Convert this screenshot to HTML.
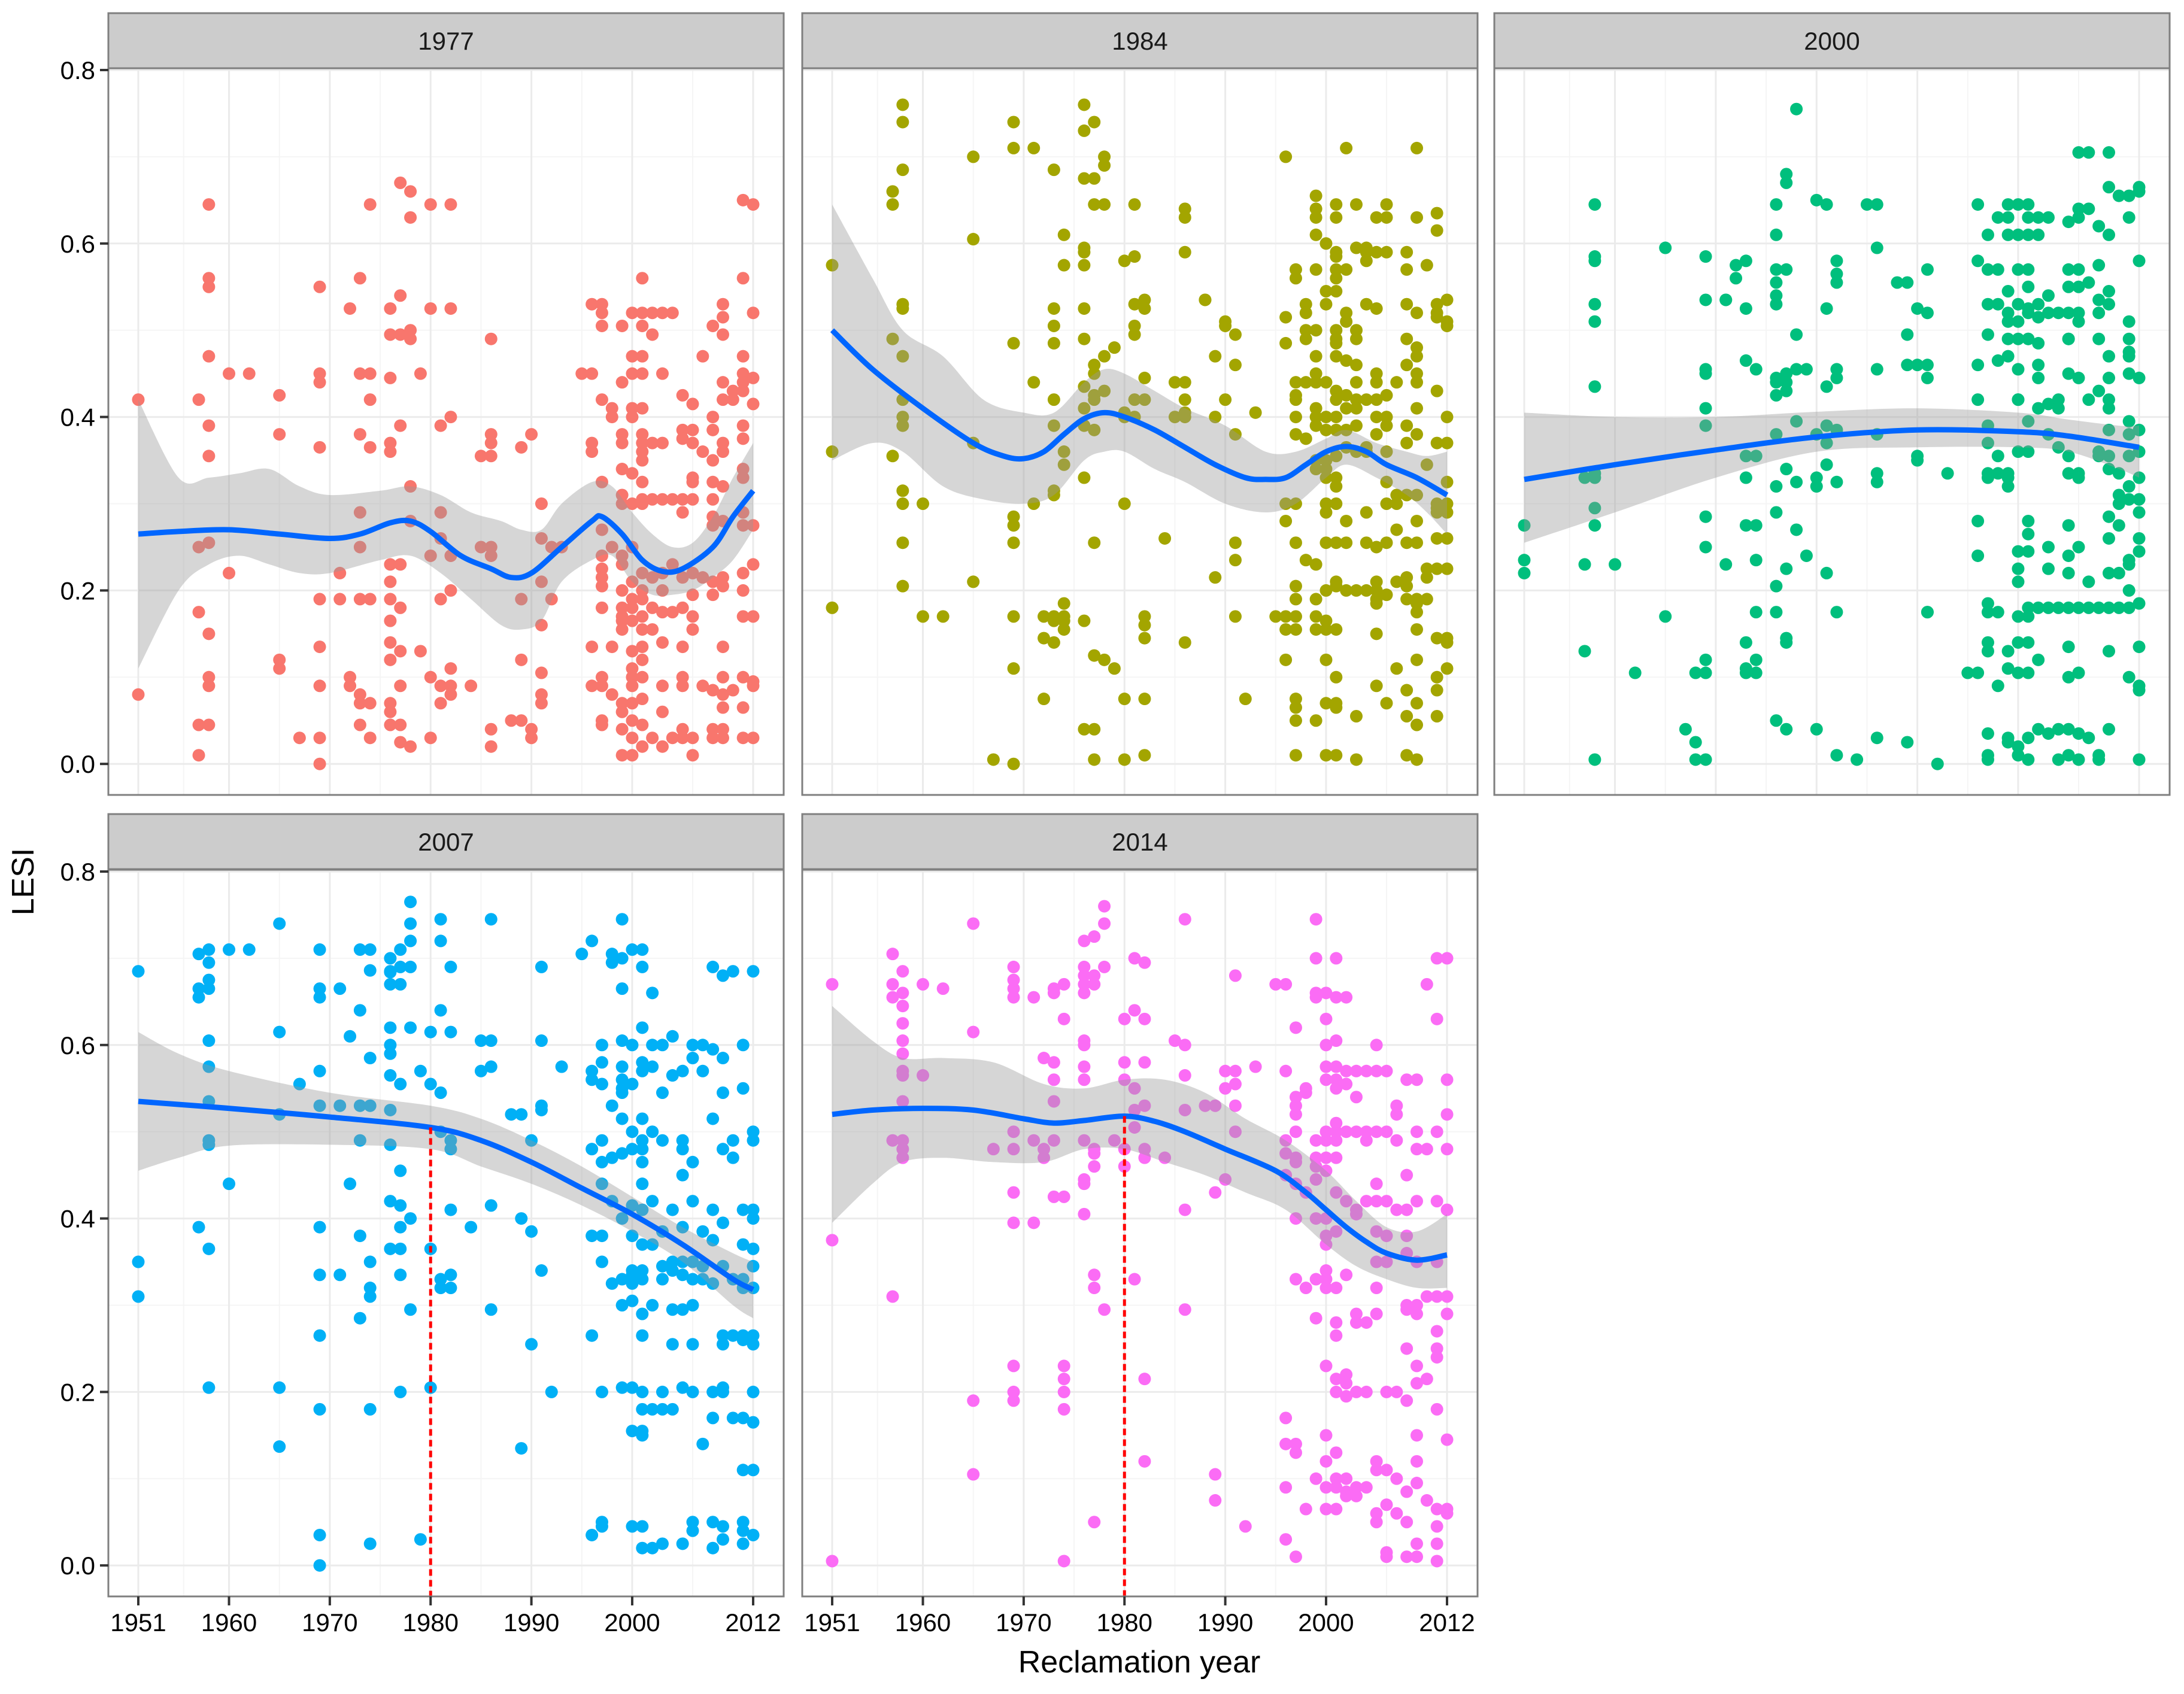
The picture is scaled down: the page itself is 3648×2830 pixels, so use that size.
<!DOCTYPE html>
<html><head><meta charset="utf-8"><style>
html,body{margin:0;padding:0;background:#fff}
svg{display:block}
text{font-family:"Liberation Sans",Arial,sans-serif}
</style></head><body>
<svg id="chart" xmlns="http://www.w3.org/2000/svg" width="3648" height="2830" viewBox="0 0 3648 2830">
<rect x="0" y="0" width="3648" height="2830" fill="#fff"/>
<text x="0" y="0" transform="translate(56,1473) rotate(-90)" text-anchor="middle" font-size="52">LESI</text>
<text x="1903" y="2794" text-anchor="middle" font-size="52">Reclamation year</text>
</svg>
<script>
const yTicks = [0.0, 0.2, 0.4, 0.6, 0.8];
const yTickLabels = ["0.0", "0.2", "0.4", "0.6", "0.8"];
const yMinor = [0.1, 0.3, 0.5, 0.7];
const xTicks = [1951, 1960, 1970, 1980, 1990, 2000, 2012];
const xTickLabels = ["1951", "1960", "1970", "1980", "1990", "2000", "2012"];
const xMinor = [1955.5, 1965, 1975, 1985, 1995, 2006];
const panelTitles = ["1977", "1984", "2000", "2007", "2014"];
const panelColors = ["#F8766D", "#A3A500", "#00BF7D", "#00B0F6", "#FB6CF5"];
const refLineYear = [null, null, null, 1980, 1980];

const pts1977 = [[1951,[0.42,0.08]],[1957,[0.42,0.25,0.175,0.045,0.01]],[1958,[0.645,0.56,0.55,0.47,0.39,0.355,0.255,0.15,0.10,0.09,0.045]],[1960,[0.45,0.22]],[1962,[0.45]],[1965,[0.425,0.38,0.12,0.11]],[1967,[0.03]],[1969,[0.55,0.45,0.44,0.365,0.19,0.135,0.09,0.03,0.0]],[1971,[0.22,0.19]],[1972,[0.525,0.1,0.09]],[1973,[0.56,0.45,0.38,0.29,0.25,0.19,0.08,0.07,0.045]],[1974,[0.645,0.45,0.42,0.365,0.19,0.07,0.03]],[1976,[0.525,0.495,0.445,0.37,0.36,0.23,0.21,0.19,0.165,0.14,0.12,0.07,0.06,0.045]],[1977,[0.67,0.54,0.495,0.39,0.23,0.18,0.13,0.09,0.045,0.025]],[1978,[0.66,0.63,0.50,0.49,0.32,0.28,0.02]],[1979,[0.45,0.13]],[1980,[0.645,0.525,0.24,0.1,0.03]],[1981,[0.39,0.29,0.26,0.19,0.09,0.07]],[1982,[0.645,0.525,0.40,0.24,0.2,0.11,0.09,0.08]],[1984,[0.09]],[1985,[0.355,0.25]],[1986,[0.49,0.38,0.37,0.355,0.25,0.24,0.04,0.02]],[1988,[0.05]],[1989,[0.365,0.19,0.12,0.05]],[1990,[0.38,0.04,0.03]],[1991,[0.30,0.26,0.21,0.16,0.08,0.07,0.105]],[1992,[0.19,0.25]],[1993,[0.25]],[1995,[0.45]],[1996,[0.53,0.45,0.37,0.36,0.135,0.09]],[1997,[0.53,0.52,0.505,0.42,0.325,0.27,0.24,0.225,0.215,0.205,0.18,0.10,0.09,0.05,0.045]],[1998,[0.41,0.40,0.25,0.135,0.08]],[1999,[0.505,0.44,0.38,0.37,0.34,0.31,0.30,0.24,0.23,0.20,0.18,0.17,0.165,0.155,0.07,0.06,0.04,0.01]],[2000,[0.52,0.47,0.45,0.41,0.40,0.335,0.30,0.25,0.21,0.19,0.18,0.165,0.13,0.11,0.1,0.09,0.07,0.05,0.03,0.01]],[2001,[0.56,0.52,0.505,0.47,0.45,0.41,0.38,0.37,0.36,0.35,0.325,0.305,0.30,0.22,0.2,0.19,0.17,0.155,0.135,0.12,0.1,0.075,0.045,0.02]],[2002,[0.52,0.495,0.37,0.305,0.215,0.18,0.155,0.03]],[2003,[0.52,0.45,0.37,0.305,0.22,0.2,0.175,0.14,0.09,0.06,0.02]],[2004,[0.52,0.305,0.23,0.175,0.03]],[2005,[0.425,0.385,0.375,0.305,0.29,0.215,0.18,0.135,0.1,0.09,0.04,0.03]],[2006,[0.415,0.385,0.37,0.33,0.325,0.305,0.22,0.195,0.17,0.155,0.03,0.01]],[2007,[0.47,0.36,0.215,0.09]],[2008,[0.505,0.40,0.385,0.35,0.325,0.305,0.285,0.275,0.21,0.195,0.085,0.04,0.03]],[2009,[0.53,0.515,0.495,0.44,0.42,0.37,0.36,0.32,0.28,0.215,0.205,0.135,0.10,0.08,0.065,0.04,0.03]],[2010,[0.43,0.42,0.085]],[2011,[0.65,0.56,0.47,0.45,0.44,0.43,0.39,0.375,0.34,0.33,0.29,0.275,0.22,0.2,0.17,0.1,0.065,0.03]],[2012,[0.645,0.52,0.445,0.415,0.275,0.23,0.17,0.095,0.09,0.03]]];

const pts1984 = [[1951,[0.575,0.36,0.18]],[1957,[0.66,0.645,0.49,0.355]],[1958,[0.76,0.74,0.685,0.53,0.525,0.47,0.42,0.40,0.39,0.315,0.30,0.255,0.205]],[1960,[0.30,0.17]],[1962,[0.17]],[1965,[0.70,0.605,0.37,0.21]],[1967,[0.005]],[1969,[0.74,0.71,0.485,0.285,0.275,0.255,0.17,0.11,0.0]],[1971,[0.71,0.44,0.30]],[1972,[0.17,0.145,0.075]],[1973,[0.685,0.525,0.505,0.485,0.42,0.39,0.315,0.31,0.17,0.165,0.14]],[1974,[0.61,0.575,0.36,0.345,0.185,0.165,0.17,0.155]],[1976,[0.76,0.73,0.675,0.595,0.59,0.575,0.525,0.49,0.435,0.41,0.39,0.33,0.165,0.04]],[1977,[0.74,0.675,0.645,0.46,0.45,0.425,0.42,0.385,0.255,0.125,0.04,0.005]],[1978,[0.70,0.69,0.645,0.47,0.43,0.12]],[1979,[0.48,0.11]],[1980,[0.58,0.405,0.40,0.30,0.075,0.005]],[1981,[0.645,0.585,0.53,0.505,0.495,0.42,0.40]],[1982,[0.535,0.525,0.445,0.42,0.17,0.16,0.145,0.075,0.01]],[1984,[0.26]],[1985,[0.44,0.40]],[1986,[0.64,0.63,0.59,0.44,0.42,0.405,0.40,0.14]],[1988,[0.535,0.535]],[1989,[0.47,0.40,0.215]],[1990,[0.51,0.505,0.42]],[1991,[0.495,0.46,0.38,0.255,0.235,0.17]],[1992,[0.075]],[1993,[0.405]],[1995,[0.17]],[1996,[0.70,0.515,0.485,0.30,0.28,0.17,0.155,0.12]],[1997,[0.57,0.56,0.44,0.425,0.42,0.40,0.38,0.30,0.255,0.205,0.19,0.17,0.155,0.075,0.065,0.05,0.01]],[1998,[0.53,0.52,0.50,0.49,0.44,0.375,0.235]],[1999,[0.655,0.64,0.63,0.61,0.57,0.50,0.47,0.45,0.44,0.41,0.40,0.39,0.35,0.34,0.23,0.19,0.17,0.155,0.05]],[2000,[0.60,0.545,0.53,0.44,0.40,0.385,0.35,0.34,0.33,0.30,0.29,0.255,0.2,0.155,0.165,0.12,0.07,0.01]],[2001,[0.645,0.63,0.59,0.585,0.57,0.56,0.545,0.50,0.49,0.485,0.47,0.43,0.42,0.40,0.385,0.355,0.33,0.32,0.30,0.255,0.21,0.205,0.155,0.1,0.07,0.065,0.01]],[2002,[0.71,0.57,0.52,0.51,0.465,0.425,0.41,0.385,0.365,0.28,0.255,0.2]],[2003,[0.645,0.595,0.5,0.49,0.46,0.44,0.42,0.41,0.39,0.36,0.2,0.055,0.005]],[2004,[0.595,0.59,0.58,0.53,0.42,0.365,0.36,0.29,0.255,0.2]],[2005,[0.63,0.59,0.525,0.45,0.44,0.42,0.4,0.38,0.25,0.21,0.2,0.19,0.185,0.15,0.09]],[2006,[0.645,0.63,0.59,0.425,0.40,0.39,0.36,0.325,0.30,0.255,0.195,0.07]],[2007,[0.44,0.31,0.27,0.3,0.21,0.11]],[2008,[0.59,0.57,0.53,0.49,0.46,0.39,0.37,0.31,0.255,0.215,0.205,0.19,0.085,0.055,0.01]],[2009,[0.71,0.63,0.52,0.45,0.48,0.44,0.47,0.41,0.38,0.31,0.28,0.255,0.19,0.185,0.175,0.155,0.12,0.07,0.045,0.005]],[2010,[0.575,0.345,0.225,0.215,0.19]],[2011,[0.635,0.615,0.53,0.52,0.515,0.43,0.37,0.3,0.295,0.29,0.26,0.225,0.145,0.1,0.085,0.055]],[2012,[0.535,0.51,0.505,0.40,0.37,0.325,0.3,0.29,0.26,0.225,0.145,0.11,0.14]]];

const pts2000 = [[1951,[0.275,0.235,0.22]],[1957,[0.33,0.23,0.13]],[1958,[0.645,0.585,0.58,0.53,0.51,0.435,0.335,0.33,0.295,0.275,0.005]],[1960,[0.23]],[1962,[0.105]],[1965,[0.595,0.17]],[1967,[0.04]],[1968,[0.005,0.025,0.105]],[1969,[0.585,0.535,0.455,0.45,0.41,0.39,0.285,0.25,0.105,0.12,0.005]],[1971,[0.535,0.535,0.23]],[1972,[0.575,0.56]],[1973,[0.58,0.525,0.465,0.355,0.33,0.275,0.14,0.11,0.105]],[1974,[0.455,0.355,0.275,0.235,0.175,0.12,0.105]],[1976,[0.645,0.61,0.57,0.555,0.54,0.53,0.44,0.445,0.425,0.38,0.32,0.29,0.205,0.175,0.05]],[1977,[0.68,0.67,0.57,0.44,0.43,0.45,0.34,0.225,0.145,0.14,0.04]],[1978,[0.755,0.495,0.455,0.395,0.325,0.27]],[1979,[0.455,0.24]],[1980,[0.65,0.38,0.33,0.32,0.04]],[1981,[0.645,0.525,0.435,0.39,0.37,0.345,0.22]],[1982,[0.58,0.565,0.555,0.455,0.445,0.385,0.325,0.175,0.01]],[1984,[0.005]],[1985,[0.645]],[1986,[0.645,0.595,0.455,0.38,0.335,0.325,0.03]],[1988,[0.555]],[1989,[0.555,0.495,0.46,0.025]],[1990,[0.525,0.46,0.355,0.35]],[1991,[0.57,0.52,0.46,0.445,0.175,0.175]],[1992,[0.0]],[1993,[0.335]],[1995,[0.105]],[1996,[0.645,0.58,0.46,0.42,0.28,0.24,0.105]],[1997,[0.61,0.57,0.53,0.495,0.39,0.37,0.335,0.33,0.185,0.175,0.14,0.13,0.035,0.005,0.01]],[1998,[0.63,0.57,0.53,0.465,0.355,0.335,0.175,0.09]],[1999,[0.645,0.63,0.61,0.545,0.52,0.51,0.49,0.47,0.33,0.335,0.32,0.13,0.11,0.025,0.03]],[2000,[0.645,0.61,0.57,0.53,0.51,0.49,0.455,0.42,0.42,0.36,0.245,0.225,0.21,0.17,0.14,0.105,0.02,0.01]],[2001,[0.645,0.63,0.61,0.57,0.55,0.525,0.52,0.49,0.49,0.395,0.36,0.28,0.265,0.245,0.18,0.17,0.14,0.105,0.03,0.005]],[2002,[0.63,0.61,0.53,0.515,0.485,0.445,0.46,0.41,0.18,0.12,0.04]],[2003,[0.63,0.54,0.52,0.415,0.38,0.25,0.225,0.18,0.035]],[2004,[0.52,0.42,0.41,0.365,0.18,0.04,0.005]],[2005,[0.625,0.57,0.55,0.49,0.52,0.45,0.49,0.355,0.335,0.275,0.24,0.22,0.18,0.135,0.1,0.04,0.01]],[2006,[0.705,0.64,0.63,0.57,0.55,0.52,0.51,0.445,0.335,0.33,0.25,0.18,0.105,0.035,0.005]],[2007,[0.705,0.64,0.555,0.42,0.21,0.18,0.03]],[2008,[0.62,0.575,0.535,0.52,0.49,0.43,0.36,0.355,0.18,0.005,0.01]],[2009,[0.705,0.665,0.61,0.545,0.53,0.47,0.445,0.42,0.41,0.385,0.355,0.34,0.285,0.26,0.22,0.18,0.13,0.04]],[2010,[0.655,0.335,0.31,0.30,0.275,0.22,0.18]],[2011,[0.655,0.63,0.51,0.49,0.47,0.475,0.45,0.395,0.38,0.355,0.32,0.305,0.235,0.23,0.2,0.18,0.1]],[2012,[0.665,0.66,0.58,0.445,0.385,0.36,0.33,0.305,0.29,0.26,0.245,0.185,0.135,0.09,0.085,0.005]]];

const pts2007 = [[1951,[0.685,0.35,0.31]],[1957,[0.705,0.665,0.655,0.39]],[1958,[0.71,0.695,0.675,0.665,0.605,0.575,0.535,0.49,0.485,0.365,0.205]],[1960,[0.71,0.44]],[1962,[0.71]],[1965,[0.74,0.615,0.52,0.205,0.137]],[1967,[0.555]],[1969,[0.71,0.665,0.655,0.57,0.53,0.39,0.335,0.265,0.18,0.035,0.0]],[1971,[0.665,0.53,0.335]],[1972,[0.61,0.44]],[1973,[0.71,0.64,0.53,0.49,0.38,0.285]],[1974,[0.71,0.686,0.585,0.53,0.35,0.32,0.31,0.18,0.025]],[1976,[0.70,0.685,0.684,0.67,0.62,0.6,0.59,0.565,0.525,0.485,0.42,0.365]],[1977,[0.71,0.69,0.67,0.555,0.455,0.415,0.39,0.365,0.335,0.2]],[1978,[0.765,0.74,0.72,0.69,0.62,0.4,0.295]],[1979,[0.57,0.03]],[1980,[0.615,0.555,0.365,0.205]],[1981,[0.745,0.72,0.64,0.545,0.5,0.33,0.32]],[1982,[0.69,0.615,0.49,0.48,0.41,0.335,0.32]],[1984,[0.39]],[1985,[0.605,0.57]],[1986,[0.745,0.605,0.575,0.415,0.295]],[1988,[0.52]],[1989,[0.52,0.40,0.135]],[1990,[0.49,0.385,0.255]],[1991,[0.69,0.605,0.53,0.525,0.34]],[1992,[0.2]],[1993,[0.575]],[1995,[0.705]],[1996,[0.72,0.57,0.56,0.48,0.38,0.265,0.035]],[1997,[0.60,0.58,0.555,0.49,0.465,0.44,0.38,0.35,0.2,0.045,0.05]],[1998,[0.705,0.695,0.53,0.47,0.42,0.325]],[1999,[0.745,0.70,0.665,0.605,0.575,0.56,0.55,0.545,0.515,0.475,0.40,0.33,0.3,0.205]],[2000,[0.71,0.60,0.555,0.50,0.48,0.415,0.38,0.34,0.335,0.325,0.305,0.205,0.155,0.045]],[2001,[0.71,0.69,0.62,0.58,0.57,0.515,0.49,0.48,0.465,0.44,0.41,0.37,0.34,0.33,0.29,0.265,0.2,0.155,0.18,0.15,0.02,0.045]],[2002,[0.66,0.6,0.575,0.5,0.42,0.37,0.3,0.18,0.02]],[2003,[0.6,0.545,0.49,0.385,0.345,0.33,0.18,0.025,0.2]],[2004,[0.61,0.565,0.41,0.35,0.34,0.295,0.255,0.18]],[2005,[0.57,0.49,0.48,0.45,0.39,0.35,0.335,0.295,0.205,0.025]],[2006,[0.6,0.585,0.465,0.42,0.35,0.33,0.30,0.255,0.2,0.05,0.04]],[2007,[0.60,0.57,0.345,0.385,0.33,0.14]],[2008,[0.69,0.595,0.515,0.41,0.375,0.325,0.2,0.17,0.05,0.02]],[2009,[0.68,0.585,0.545,0.48,0.395,0.345,0.205,0.255,0.265,0.2,0.03,0.045]],[2010,[0.685,0.49,0.47,0.33,0.17,0.265]],[2011,[0.6,0.55,0.41,0.37,0.33,0.32,0.265,0.26,0.17,0.11,0.05,0.025,0.04]],[2012,[0.685,0.5,0.49,0.41,0.4,0.365,0.345,0.32,0.265,0.255,0.2,0.165,0.11,0.035]]];

const pts2014 = [[1951,[0.67,0.375,0.005]],[1957,[0.705,0.67,0.655,0.49,0.31]],[1958,[0.685,0.66,0.645,0.625,0.605,0.59,0.57,0.565,0.535,0.49,0.48,0.47]],[1960,[0.565,0.67]],[1962,[0.665]],[1965,[0.74,0.615,0.19,0.105]],[1967,[0.48]],[1969,[0.69,0.675,0.665,0.655,0.5,0.48,0.43,0.395,0.23,0.2,0.19]],[1971,[0.655,0.49,0.395]],[1972,[0.585,0.48,0.47]],[1973,[0.665,0.66,0.58,0.56,0.535,0.49,0.425]],[1974,[0.67,0.63,0.425,0.23,0.215,0.2,0.18,0.005]],[1976,[0.72,0.69,0.68,0.67,0.66,0.605,0.6,0.575,0.56,0.49,0.445,0.44,0.405]],[1977,[0.725,0.68,0.67,0.48,0.475,0.46,0.335,0.32,0.05]],[1978,[0.76,0.74,0.69,0.295]],[1979,[0.49]],[1980,[0.63,0.58,0.56,0.48,0.46]],[1981,[0.7,0.64,0.55,0.525,0.505,0.33]],[1982,[0.695,0.63,0.58,0.53,0.48,0.47,0.215,0.12]],[1984,[0.47]],[1985,[0.605]],[1986,[0.745,0.6,0.565,0.525,0.41,0.295]],[1988,[0.53]],[1989,[0.53,0.43,0.105,0.075]],[1990,[0.57,0.55,0.445]],[1991,[0.68,0.57,0.555,0.53,0.5]],[1992,[0.045]],[1993,[0.575]],[1995,[0.67]],[1996,[0.67,0.57,0.49,0.475,0.45,0.17,0.14,0.09,0.03]],[1997,[0.62,0.54,0.53,0.52,0.5,0.47,0.465,0.44,0.4,0.33,0.14,0.13,0.01]],[1998,[0.545,0.55,0.43,0.32,0.065]],[1999,[0.745,0.7,0.66,0.655,0.49,0.47,0.46,0.445,0.4,0.33,0.285,0.1]],[2000,[0.66,0.63,0.6,0.575,0.56,0.5,0.49,0.47,0.455,0.4,0.38,0.37,0.34,0.33,0.32,0.23,0.15,0.12,0.09,0.065]],[2001,[0.7,0.655,0.605,0.575,0.56,0.55,0.51,0.5,0.49,0.47,0.43,0.385,0.32,0.28,0.265,0.215,0.2,0.13,0.1,0.09,0.065]],[2002,[0.655,0.57,0.555,0.5,0.42,0.335,0.22,0.21,0.195,0.1,0.085,0.08]],[2003,[0.57,0.54,0.5,0.41,0.405,0.28,0.29,0.2,0.09,0.08]],[2004,[0.57,0.5,0.49,0.42,0.28,0.2,0.09]],[2005,[0.6,0.57,0.5,0.44,0.42,0.385,0.35,0.32,0.29,0.12,0.11,0.06,0.05]],[2006,[0.57,0.5,0.42,0.38,0.35,0.2,0.11,0.07,0.015,0.01]],[2007,[0.53,0.52,0.49,0.41,0.2,0.1,0.06]],[2008,[0.56,0.45,0.41,0.38,0.36,0.3,0.295,0.25,0.19,0.085,0.05,0.01]],[2009,[0.56,0.5,0.48,0.42,0.35,0.3,0.29,0.23,0.21,0.15,0.12,0.095,0.025,0.01]],[2010,[0.67,0.48,0.31,0.215,0.075]],[2011,[0.7,0.63,0.5,0.42,0.35,0.31,0.27,0.25,0.24,0.18,0.025,0.045,0.065,0.005]],[2012,[0.7,0.56,0.52,0.48,0.41,0.31,0.29,0.145,0.06,0.065]]];

const fitYears1977 = [1951,1955,1960,1965,1970,1973,1976,1978,1980,1983,1986,1988,1990,1993,1996,1997,1999,2001,2003,2005,2008,2010,2012];
const fitVals1977 = [0.265,0.268,0.27,0.265,0.26,0.265,0.278,0.28,0.268,0.24,0.225,0.215,0.22,0.25,0.28,0.285,0.265,0.235,0.222,0.225,0.25,0.285,0.315];
const bandYears1977 = [1951,1955,1958,1961,1964,1967,1970,1975,1978,1981,1984,1987,1989,1991,1993,1996,1998,2000,2002,2004,2006,2008,2010,2012];
const bandLo1977 = [0.11,0.2,0.23,0.24,0.23,0.22,0.22,0.235,0.24,0.22,0.19,0.16,0.155,0.165,0.21,0.235,0.24,0.21,0.195,0.195,0.2,0.215,0.235,0.27];
const bandHi1977 = [0.42,0.33,0.33,0.335,0.34,0.32,0.31,0.315,0.32,0.31,0.29,0.28,0.27,0.27,0.3,0.325,0.32,0.29,0.265,0.25,0.255,0.285,0.33,0.37];

const fitYears1984 = [1951,1955,1960,1965,1968,1970,1972,1974,1976,1978,1980,1983,1986,1989,1992,1994,1996,1998,2000,2002,2004,2006,2009,2012];
const fitVals1984 = [0.50,0.455,0.41,0.37,0.355,0.352,0.36,0.38,0.398,0.405,0.40,0.385,0.365,0.345,0.33,0.328,0.33,0.345,0.36,0.366,0.36,0.345,0.33,0.31];
const bandYears1984 = [1951,1955,1958,1962,1966,1970,1973,1976,1978,1980,1983,1986,1990,1994,1997,2000,2002,2005,2008,2010,2012];
const bandLo1984 = [0.35,0.37,0.36,0.32,0.305,0.30,0.31,0.35,0.36,0.36,0.34,0.325,0.30,0.29,0.30,0.33,0.345,0.33,0.31,0.29,0.265];
const bandHi1984 = [0.645,0.56,0.5,0.47,0.42,0.405,0.405,0.44,0.455,0.45,0.43,0.41,0.39,0.36,0.36,0.375,0.385,0.37,0.36,0.355,0.36];

const fitYears2000 = [1951,1960,1970,1980,1990,2000,2005,2012];
const fitVals2000 = [0.328,0.345,0.362,0.377,0.385,0.383,0.378,0.365];
const bandYears2000 = [1951,1960,1970,1980,1990,2000,2005,2010,2012];
const bandLo2000 = [0.255,0.29,0.33,0.36,0.365,0.365,0.36,0.34,0.33];
const bandHi2000 = [0.405,0.40,0.40,0.406,0.41,0.405,0.397,0.39,0.39];

const fitYears2007 = [1951,1960,1970,1980,1985,1990,1995,2000,2005,2010,2012];
const fitVals2007 = [0.535,0.527,0.517,0.505,0.49,0.465,0.435,0.405,0.37,0.33,0.318];
const bandYears2007 = [1951,1955,1960,1970,1980,1985,1990,1995,2000,2005,2010,2012];
const bandLo2007 = [0.455,0.47,0.484,0.485,0.48,0.46,0.44,0.415,0.385,0.35,0.30,0.285];
const bandHi2007 = [0.615,0.59,0.57,0.545,0.53,0.515,0.49,0.46,0.425,0.39,0.36,0.35];

const fitYears2014 = [1951,1955,1960,1965,1970,1973,1976,1980,1983,1986,1990,1995,1998,2000,2002,2004,2006,2009,2012];
const fitVals2014 = [0.52,0.525,0.527,0.525,0.515,0.51,0.513,0.518,0.512,0.5,0.48,0.455,0.43,0.41,0.39,0.373,0.36,0.352,0.358];
const bandYears2014 = [1951,1955,1958,1962,1967,1972,1976,1980,1984,1988,1992,1996,2000,2003,2006,2009,2012];
const bandLo2014 = [0.395,0.44,0.465,0.47,0.465,0.465,0.48,0.48,0.465,0.45,0.43,0.41,0.37,0.345,0.33,0.32,0.32];
const bandHi2014 = [0.645,0.605,0.585,0.585,0.58,0.555,0.55,0.56,0.56,0.545,0.515,0.49,0.455,0.42,0.39,0.385,0.405];

const panelPoints = [pts1977, pts1984, pts2000, pts2007, pts2014];
const panelFitYears = [fitYears1977, fitYears1984, fitYears2000, fitYears2007, fitYears2014];
const panelFitVals = [fitVals1977, fitVals1984, fitVals2000, fitVals2007, fitVals2014];
const panelBandYears = [bandYears1977, bandYears1984, bandYears2000, bandYears2007, bandYears2014];
const panelBandLo = [bandLo1977, bandLo1984, bandLo2000, bandLo2007, bandLo2014];
const panelBandHi = [bandHi1977, bandHi1984, bandHi2000, bandHi2007, bandHi2014];

const NS = "http://www.w3.org/2000/svg";
const svg = document.getElementById("chart");
function mk(tag, attrs, parent) {
  const e = document.createElementNS(NS, tag);
  for (const k in attrs) e.setAttribute(k, attrs[k]);
  (parent || svg).appendChild(e);
  return e;
}
const colLeft = [181, 1340, 2496];
const PW = 1128;
const rowStripTop = [22, 1360];
const rowPanelTop = [114, 1453];
const PH = 1214;
const STRIP = 92;

function interpLine(xs, ys) {
  let d = "M" + xs[0].toFixed(1) + "," + ys[0].toFixed(1);
  for (let i = 0; i < xs.length - 1; i++) {
    const x0 = xs[Math.max(0, i - 1)], y0 = ys[Math.max(0, i - 1)];
    const x1 = xs[i], y1 = ys[i], x2 = xs[i + 1], y2 = ys[i + 1];
    const x3 = xs[Math.min(xs.length - 1, i + 2)], y3 = ys[Math.min(xs.length - 1, i + 2)];
    const c1x = x1 + (x2 - x0) / 6, c1y = y1 + (y2 - y0) / 6;
    const c2x = x2 - (x3 - x1) / 6, c2y = y2 - (y3 - y1) / 6;
    d += " C" + c1x.toFixed(1) + "," + c1y.toFixed(1) + " " + c2x.toFixed(1) + "," + c2y.toFixed(1) + " " + x2.toFixed(1) + "," + y2.toFixed(1);
  }
  return d;
}

for (let p = 0; p < 5; p++) {
  const col = p % 3, row = Math.floor(p / 3);
  const L = colLeft[col], T = rowPanelTop[row];
  const xScale = yr => L + 50 + (yr - 1951) * (1027 / 61);
  const yScale = v => T + 3 + (0.8 - v) * 1449;
  const g = mk("g", {});
  
  

  const st = mk("rect", {x: L, y: rowStripTop[row], width: PW, height: STRIP, fill: "#CCCCCC", stroke: "#7F7F7F", "stroke-width": 3}, g);
  
  
  const stt = mk("text", {x: L + PW / 2, y: rowStripTop[row] + STRIP / 2 + 15, "text-anchor": "middle", "font-size": 42, fill: "#1a1a1a"}, g);
  
  
  stt.textContent = panelTitles[p];

  mk("rect", {x: L, y: T, width: PW, height: PH, fill: "#fff"}, g);
  yMinor.forEach(v => { mk("line", {x1: L, x2: L + PW, y1: yScale(v), y2: yScale(v), stroke: "#F5F5F5", "stroke-width": 2}, g); });
  xMinor.forEach(v => { mk("line", {x1: xScale(v), x2: xScale(v), y1: T, y2: T + PH, stroke: "#F5F5F5", "stroke-width": 2}, g); });
  yTicks.forEach(v => {
    const gl = mk("line", {x1: L, x2: L + PW, y1: yScale(v), y2: yScale(v), stroke: "#EBEBEB", "stroke-width": 3}, g);
    
    
  });
  xTicks.forEach(v => {
    const gl = mk("line", {x1: xScale(v), x2: xScale(v), y1: T, y2: T + PH, stroke: "#EBEBEB", "stroke-width": 3}, g);
    
    
  });

  panelPoints[p].forEach(([yr, vals]) => {
    vals.forEach(v => {
      const c = mk("circle", {cx: xScale(yr), cy: yScale(v), r: 10.5, fill: panelColors[p]}, g);
      
      
    });
  });

  const bx = panelBandYears[p].map(xScale);
  const bHi = panelBandHi[p].map(yScale);
  const bLo = panelBandLo[p].map(yScale);
  let dHi = interpLine(bx, bHi);
  let dLo = interpLine(bx.slice().reverse(), bLo.slice().reverse());
  const rib = mk("path", {d: dHi + " L" + dLo.slice(1) + " Z", fill: "#999999", "fill-opacity": 0.4, stroke: "none"}, g);
  
  

  const fl = mk("path", {d: interpLine(panelFitYears[p].map(xScale), panelFitVals[p].map(yScale)), fill: "none", stroke: "#0066FF", "stroke-width": 9, "stroke-linecap": "butt"}, g);
  
  

  if (refLineYear[p] !== null) {
    const fy = panelFitYears[p], fv = panelFitVals[p];
    let val = fv[0];
    for (let i = 0; i < fy.length - 1; i++) {
      if (refLineYear[p] >= fy[i] && refLineYear[p] <= fy[i + 1]) {
        val = fv[i] + (fv[i + 1] - fv[i]) * (refLineYear[p] - fy[i]) / (fy[i + 1] - fy[i]);
      }
    }
    const rl = mk("line", {x1: xScale(refLineYear[p]), x2: xScale(refLineYear[p]), y1: yScale(val), y2: T + PH, stroke: "#FF0000", "stroke-width": 5, "stroke-dasharray": "11 7"}, g);
    
    
  }

  const bd = mk("rect", {x: L, y: T, width: PW, height: PH, fill: "none", stroke: "#7F7F7F", "stroke-width": 3}, g);
  
  

  if (col === 0) {
    yTicks.forEach((v, i) => {
      const tk = mk("line", {x1: L - 14, x2: L, y1: yScale(v), y2: yScale(v), stroke: "#333", "stroke-width": 4}, g);
      
      
      const tl = mk("text", {x: L - 22, y: yScale(v) + 15, "text-anchor": "end", "font-size": 42, fill: "#000"}, g);
      
      
      tl.textContent = yTickLabels[i];
    });
  }
  if (row === 1) {
    xTicks.forEach((v, i) => {
      const tk = mk("line", {x1: xScale(v), x2: xScale(v), y1: T + PH, y2: T + PH + 15, stroke: "#333", "stroke-width": 4}, g);
      
      
      const tl = mk("text", {x: xScale(v), y: T + PH + 58, "text-anchor": "middle", "font-size": 42, fill: "#000"}, g);
      
      
      tl.textContent = xTickLabels[i];
    });
  }
}
</script>
</body></html>
